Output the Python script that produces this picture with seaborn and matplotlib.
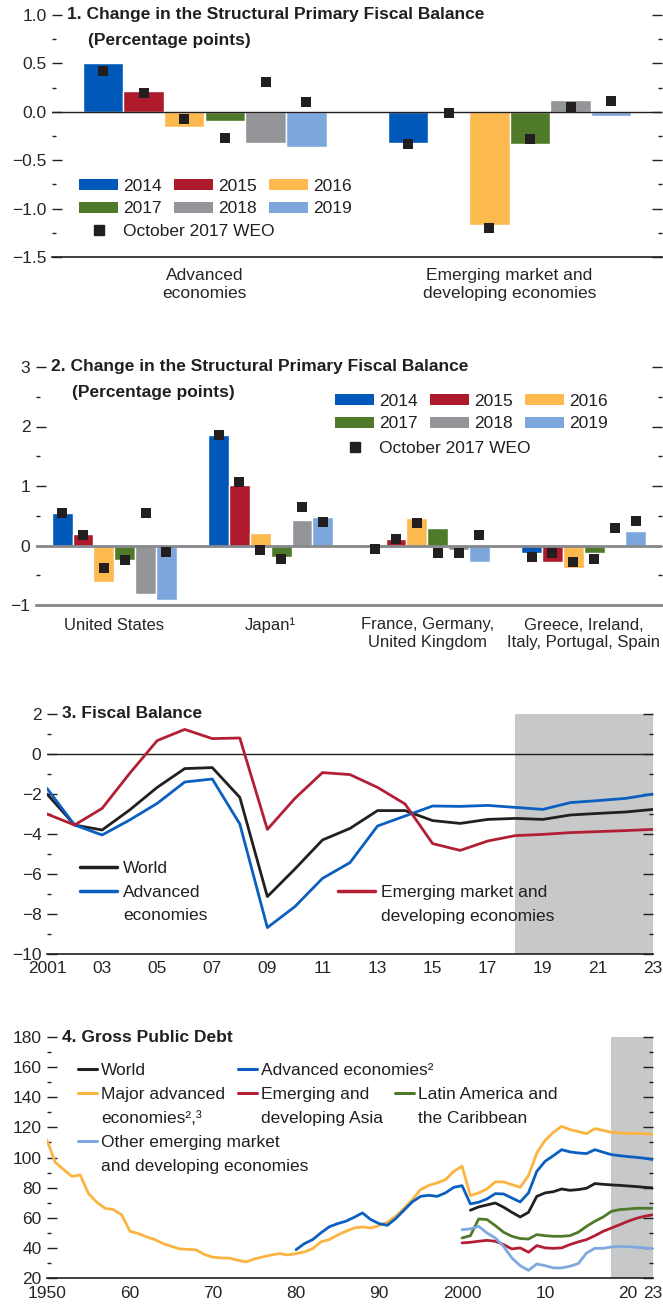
import numpy as np
import pandas as pd
import matplotlib
matplotlib.use('Agg')
import matplotlib.pyplot as plt
import seaborn as sns
from matplotlib.patches import Patch
from matplotlib.lines import Line2D
from matplotlib.ticker import MultipleLocator, FuncFormatter

# ---- data ----
years = ['2014', '2015', '2016', '2017', '2018', '2019']
year_colors = ['#0058b8', '#ae1a2c', '#fcb94d', '#4f7a2a', '#939598', '#7da7dc']

# panel 1
p1_groups = ['Advanced\neconomies', 'Emerging market and\ndeveloping economies']
p1_bars_adv = [0.50, 0.22, -0.16, -0.09, -0.32, -0.36]
p1_bars_emde = [-0.32, 0.01, -1.17, -0.33, 0.12, -0.04]
p1_weo_adv = [0.42, 0.19, -0.07, -0.27, 0.31, 0.10]
p1_weo_emde = [-0.33, -0.01, -1.20, -0.28, 0.05, 0.11]

# panel 2
p2_groups = ['United States', 'Japan\u00b9', 'France, Germany,\nUnited Kingdom',
             'Greece, Ireland,\nItaly, Portugal, Spain']
p2_bars_us = [0.55, 0.20, -0.62, -0.25, -0.81, -0.91]
p2_bars_jpn = [1.86, 1.02, 0.21, -0.20, 0.43, 0.48]
p2_bars_big3 = [0.03, 0.11, 0.46, 0.29, -0.08, -0.28]
p2_bars_south = [-0.13, -0.28, -0.38, -0.12, 0.00, 0.24]
p2_weo_us = [0.55, 0.18, -0.37, -0.25, 0.54, -0.11]
p2_weo_jpn = [1.86, 1.07, -0.07, -0.23, 0.64, 0.39]
p2_weo_big3 = [-0.06, 0.11, 0.38, -0.13, -0.12, 0.18]
p2_weo_south = [-0.20, -0.13, -0.28, -0.22, 0.30, 0.41]

# panel 3 (2001-2023)
p3_years = list(range(2001, 2024))
p3_world = [-2.0, -3.55, -3.8, -2.8, -1.67, -0.73, -0.68, -2.17, -7.13, -5.75, -4.3,
            -3.72, -2.83, -2.83, -3.33, -3.47, -3.27, -3.22, -3.27, -3.05, -2.97, -2.9, -2.77]
p3_adv = [-1.72, -3.55, -4.05, -3.3, -2.47, -1.4, -1.25, -3.5, -8.68, -7.63, -6.22,
          -5.43, -3.6, -3.1, -2.6, -2.62, -2.57, -2.67, -2.77, -2.43, -2.33, -2.22, -2.0]
p3_emde = [-3.0, -3.55, -2.72, -0.97, 0.67, 1.23, 0.77, 0.8, -3.77, -2.22, -0.93,
           -1.03, -1.67, -2.5, -4.48, -4.82, -4.35, -4.08, -4.02, -3.93, -3.88, -3.83, -3.77]

# panel 4
p4_major_adv = [111.4, 96.8, 92.0, 87.5, 88.4, 76.0, 70.3, 66.3, 65.4, 61.9,      # 1950s
                51.0, 49.5, 47.3, 45.5, 42.8, 41.0, 39.3, 39.0, 38.6, 35.5,       # 1960s
                33.8, 33.3, 33.2, 31.8, 30.7, 32.7, 34.0, 35.3, 36.2, 35.3,       # 1970s
                36.2, 37.3, 39.5, 44.0, 45.5, 48.5, 51.0, 53.2, 53.9, 53.2,       # 1980s
                54.8, 57.0, 61.0, 66.1, 72.0, 78.7, 81.5, 83.1, 85.3, 90.8,       # 1990s
                94.2, 74.7, 76.5, 79.1, 83.8, 83.8, 82.0, 80.2, 88.0, 103.0,      # 2000s
                111.4, 116.7, 120.7, 118.5, 117.2, 115.8, 119.2, 118.0, 116.7, 116.3,
                116.0, 116.0, 115.8, 115.4]
p4_adv = [38.8, 42.8, 45.5, 50.0, 54.0, 56.1, 57.7, 60.3, 63.2, 58.8,             # 1980s
          56.1, 55.0, 59.4, 65.0, 70.5, 74.2, 74.9, 74.2, 76.5, 80.2,             # 1990s
          81.3, 69.2, 70.3, 72.5, 76.0, 75.8, 73.1, 70.5, 76.5, 90.8,             # 2000s
          97.5, 101.2, 105.2, 103.7, 103.0, 102.6, 105.2, 103.5, 101.9, 101.2,
          100.6, 100.1, 99.5, 98.6]
p4_world = [65.0, 67.2, 68.5, 69.8, 67.0, 63.6, 60.5, 63.6, 74.2,                  # 2001-09
            76.5, 77.3, 79.1, 78.2, 78.7, 79.6, 82.7, 82.2, 81.8, 81.5,
            81.1, 80.7, 80.2, 79.8]
p4_latam = [46.6, 48.1, 59.2, 58.8, 54.8, 50.4, 47.7, 46.2, 45.9, 48.8,            # 2000s
            48.1, 47.7, 47.7, 48.1, 50.4, 54.3, 57.7, 60.5, 64.3, 65.4,
            65.8, 66.3, 66.3, 66.3]
p4_asia = [43.3, 43.7, 44.4, 45.0, 44.4, 42.2, 39.3, 40.0, 37.1, 41.5,
           40.0, 39.7, 40.0, 42.2, 44.0, 45.5, 48.1, 51.0, 53.2, 55.4,
           57.7, 59.6, 61.0, 62.0]
p4_other = [52.1, 52.6, 54.3, 49.9, 46.6, 41.0, 33.3, 28.2, 25.1, 29.3,
            28.2, 26.7, 26.7, 27.8, 29.6, 36.6, 39.7, 39.7, 40.6, 41.0,
            40.8, 40.4, 40.0, 39.5]

# ---- style ----
sns.set_style('white')
plt.rcParams['font.family'] = ['Liberation Sans', 'DejaVu Sans']
plt.rcParams['font.size'] = 12.5
plt.rcParams['text.color'] = '#231f20'
plt.rcParams['axes.unicode_minus'] = True
INK = '#231f20'
SHADE = '#c7c8ca'
BLUE = '#0a5fc0'
RED = '#b21f35'

W, H = 663, 1308
fig = plt.figure(figsize=(W / 100, H / 100), dpi=100)


def box(l, t, r, b):
    return [l / W, 1 - b / H, (r - l) / W, (b - t) / H]


def title(x, y, s):
    fig.text(x / W, 1 - y / H, s, fontweight='bold', va='center', ha='left')


def legend(handles, labels, x, y, **kw):
    # y is the top of the first legend row, in picture pixels
    return fig.legend(handles, labels, loc='upper left',
                      bbox_to_anchor=(x / W, 1 - y / H), bbox_transform=fig.transFigure,
                      frameon=False, borderpad=0, borderaxespad=0, **kw)


def minus_fmt(fmt):
    return FuncFormatter(lambda v, p: (fmt % v).replace('-', '\u2212') if abs(v) > 1e-9 else fmt % 0)


def style_y(ax, major, minor):
    ax.yaxis.set_major_locator(MultipleLocator(major))
    ax.yaxis.set_minor_locator(MultipleLocator(minor))
    ax.tick_params(axis='y', which='both', direction='in', left=True, right=True,
                   labelleft=True, labelright=False, color=INK, width=1, pad=4)
    ax.tick_params(axis='y', which='major', length=7)
    ax.tick_params(axis='y', which='minor', length=3)
    for s in ['left', 'right', 'top']:
        ax.spines[s].set_visible(False)
    ax.spines['bottom'].set_color(INK)
    ax.spines['bottom'].set_linewidth(1.2)
    ax.set_xlabel('')
    ax.set_ylabel('')


def bar_panel(ax, groups, bars, weo, ylim):
    df = pd.DataFrame({
        'group': np.repeat(groups, len(years)),
        'year': years * len(groups),
        'bar': np.concatenate(bars),
        'weo': np.concatenate(weo),
    })
    sns.barplot(data=df, x='group', y='bar', hue='year', hue_order=years,
                palette=year_colors, saturation=1, errorbar=None, width=0.8,
                legend=False, ax=ax, zorder=2)
    sns.stripplot(data=df, x='group', y='weo', hue='year', hue_order=years,
                  palette=[INK] * len(years), dodge=True, jitter=False, marker='s',
                  size=7, linewidth=0, legend=False, ax=ax, zorder=4)
    ax.set_xlim(-0.5, len(groups) - 0.5)
    ax.set_ylim(*ylim)
    ax.set_xticks(range(len(groups)))
    ax.set_xticklabels(groups, linespacing=1.25)
    ax.set_xticks(np.arange(len(groups) - 1) + 0.5, minor=True)
    ax.tick_params(axis='x', which='major', length=0, pad=8)
    ax.tick_params(axis='x', which='minor', direction='in', length=8, width=1, color=INK)


def year_legend(x, y, weo_gap):
    order = [0, 3, 1, 4, 2, 5]
    handles = [Patch(facecolor=year_colors[i], edgecolor='none') for i in order]
    labels = [years[i] for i in order]
    legend(handles, labels, x, y, ncol=3, handlelength=2.25, handleheight=0.58,
           handletextpad=0.29, columnspacing=0.71, labelspacing=0.43)
    weo_h = Line2D([], [], ls='none', marker='s', ms=7, color=INK)
    legend([weo_h], ['October 2017 WEO'], x, y + weo_gap, handlelength=2.25,
           handletextpad=0.29)


# ---- panel 1 ----
ax1 = fig.add_axes(box(52, 15, 662, 257))
bar_panel(ax1, p1_groups, [p1_bars_adv, p1_bars_emde], [p1_weo_adv, p1_weo_emde], (-1.5, 1.0))
ax1.axhline(0, color=INK, lw=1, zorder=3)
style_y(ax1, 0.5, 0.25)
ax1.yaxis.set_major_formatter(minus_fmt('%.1f'))
title(67, 15, '1. Change in the Structural Primary Fiscal Balance')
title(88, 40, '(Percentage points)')
year_legend(79, 179, 45)

# ---- panel 2 ----
ax2 = fig.add_axes(box(36, 367, 662, 605))
bar_panel(ax2, p2_groups,
          [p2_bars_us, p2_bars_jpn, p2_bars_big3, p2_bars_south],
          [p2_weo_us, p2_weo_jpn, p2_weo_big3, p2_weo_south], (-1, 3))
ax2.axhline(0, color='#86888b', lw=2, zorder=3)
style_y(ax2, 1, 0.5)
ax2.spines['bottom'].set_color('#86888b')
ax2.spines['bottom'].set_linewidth(2)
ax2.tick_params(axis='x', which='major', pad=9)
ax2.tick_params(axis='x', which='major', labelsize=12)
title(51, 367, '2. Change in the Structural Primary Fiscal Balance')
title(72, 392, '(Percentage points)')
year_legend(335, 394, 47)

# ---- panel 3 ----
ax3 = fig.add_axes(box(47, 714, 653, 954))
df3 = pd.DataFrame({
    'year': p3_years * 3,
    'value': p3_world + p3_adv + p3_emde,
    'series': ['World'] * 23 + ['Advanced'] * 23 + ['EMDE'] * 23,
})
ax3.axvspan(2018, 2023, color=SHADE, lw=0, zorder=0)
ax3.axhline(0, color=INK, lw=1, zorder=1)
sns.lineplot(data=df3, x='year', y='value', hue='series',
             palette={'World': INK, 'Advanced': BLUE, 'EMDE': RED},
             lw=2, legend=False, ax=ax3, zorder=3)
ax3.set_xlim(2001, 2023)
ax3.set_ylim(-10, 2)
style_y(ax3, 2, 1)
ax3.set_xticks(range(2001, 2024, 2))
ax3.set_xticklabels(['2001'] + [f'{y % 100:02d}' for y in range(2003, 2024, 2)])
ax3.set_xticks(range(2001, 2024), minor=True)
ax3.tick_params(axis='x', which='both', direction='in', length=7, width=1, color=INK, pad=5)
title(62, 714, '3. Fiscal Balance')
blank = Line2D([], [], color='none')
legend([Line2D([], [], color=INK, lw=2.5), Line2D([], [], color=BLUE, lw=2.5), blank],
       ['World', 'Advanced', 'economies'], 80, 861,
       handlelength=2.13, handletextpad=0.35, labelspacing=0.49)
legend([Line2D([], [], color=RED, lw=2.5), blank],
       ['Emerging market and', 'developing economies'], 338, 885,
       handlelength=2.13, handletextpad=0.35, labelspacing=0.49)

# ---- panel 4 ----
ax4 = fig.add_axes(box(47, 1037, 653, 1278))
series4 = [
    ('Major', 1950, p4_major_adv, '#fbb440'),
    ('Adv', 1980, p4_adv, BLUE),
    ('World', 2001, p4_world, INK),
    ('LatAm', 2000, p4_latam, '#4f7a2a'),
    ('Asia', 2000, p4_asia, RED),
    ('Other', 2000, p4_other, '#7fa9de'),
]
df4 = pd.concat([pd.DataFrame({'year': np.arange(start, start + len(vals)),
                               'value': vals, 'series': name})
                 for name, start, vals, _ in series4])
ax4.axvspan(2018, 2023, color=SHADE, lw=0, zorder=0)
sns.lineplot(data=df4, x='year', y='value', hue='series',
             hue_order=[s[0] for s in series4],
             palette={s[0]: s[3] for s in series4}, lw=2, legend=False, ax=ax4, zorder=3)
ax4.set_xlim(1950, 2023)
ax4.set_ylim(20, 180)
style_y(ax4, 20, 10)
ax4.set_xticks([1950, 1960, 1970, 1980, 1990, 2000, 2010, 2020, 2023])
ax4.set_xticklabels(['1950', '60', '70', '80', '90', '2000', '10', '20', '23'])
ax4.set_xticks(range(1950, 2024), minor=True)
ax4.tick_params(axis='x', which='both', direction='in', length=8, width=1, color=INK, pad=6)
title(62, 1038, '4. Gross Public Debt')
kw4 = dict(handlelength=1.1, handletextpad=0.23, labelspacing=0.51)
lh = lambda c: Line2D([], [], color=c, lw=2.2)
legend([lh(INK), lh('#fbb440'), blank, lh('#7fa9de'), blank],
       ['World', 'Major advanced', 'economies\u00b2,\u00b3',
        'Other emerging market', 'and developing economies'], 78, 1063, **kw4)
legend([lh(BLUE), lh(RED), blank],
       ['Advanced economies\u00b2', 'Emerging and', 'developing Asia'], 238, 1063, **kw4)
legend([lh('#4f7a2a'), blank],
       ['Latin America and', 'the Caribbean'], 395, 1087, **kw4)

fig.savefig('out.png', dpi=100)
